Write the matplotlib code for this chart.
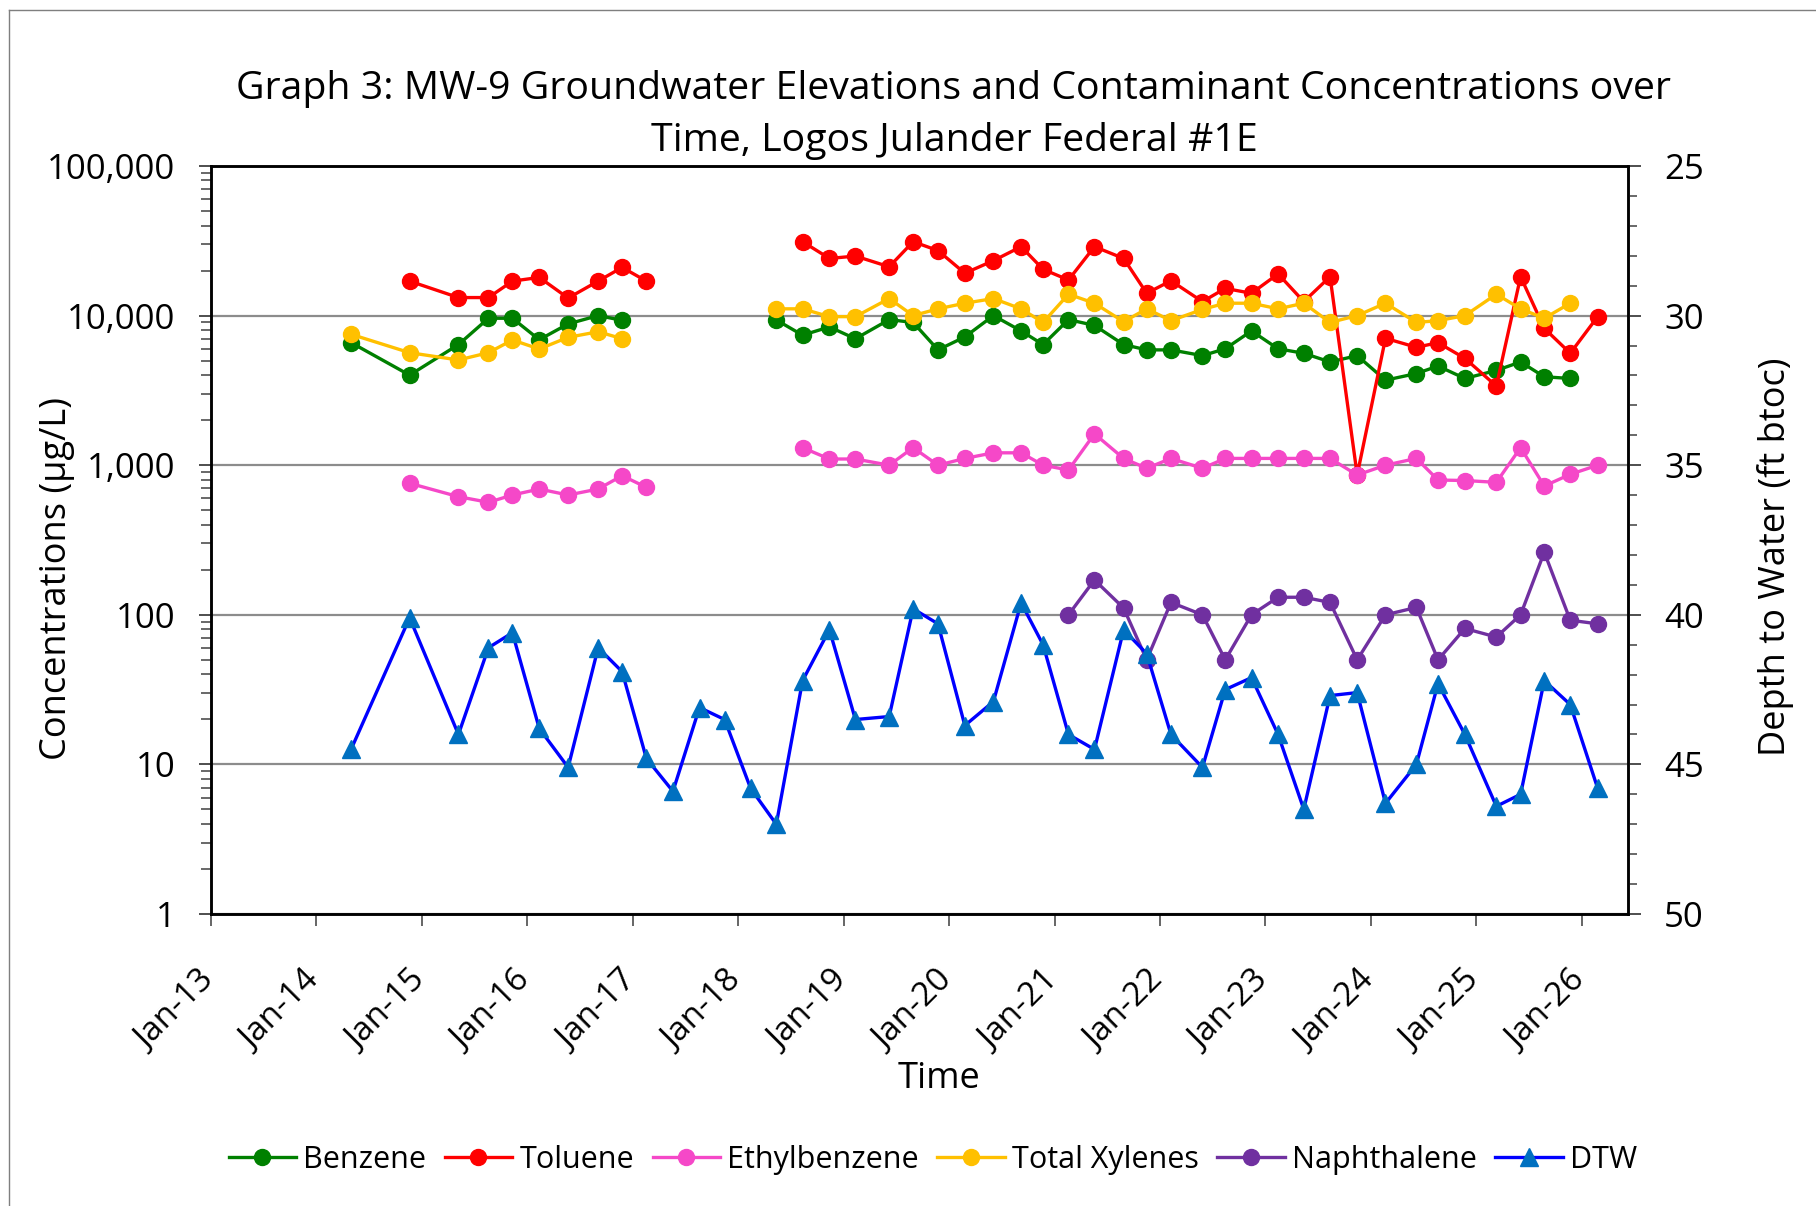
import matplotlib
matplotlib.use('Agg')
import matplotlib.pyplot as plt
import matplotlib.dates as mdates
from matplotlib.ticker import LogLocator, FuncFormatter, MultipleLocator, NullFormatter, FixedLocator
from matplotlib.transforms import ScaledTranslation
from matplotlib.lines import Line2D
import numpy as np
from datetime import datetime

plt.rcParams['font.family'] = ['Open Sans', 'DejaVu Sans']

# ---------------- data ----------------
dates = ["2014-05-01", "2014-11-20", "2015-05-08", "2015-08-20", "2015-11-11",
         "2016-02-12", "2016-05-22", "2016-09-03", "2016-11-25", "2017-02-17",
         "2017-05-20", "2017-08-20", "2017-11-15", "2018-02-13", "2018-05-13",
         "2018-08-12", "2018-11-13", "2019-02-11", "2019-06-08", "2019-08-30",
         "2019-11-24", "2020-02-25", "2020-06-03", "2020-09-07", "2020-11-22",
         "2021-02-18", "2021-05-19", "2021-08-28", "2021-11-16", "2022-02-08",
         "2022-05-28", "2022-08-15", "2022-11-14", "2023-02-14", "2023-05-14",
         "2023-08-13", "2023-11-15", "2024-02-21", "2024-06-07", "2024-08-21",
         "2024-11-22", "2025-03-11", "2025-06-03", "2025-08-24", "2025-11-22",
         "2026-02-25"]

benzene = [6600, 4000, 6400, 9600, 9600, 6900, 8800, 10000, 9300, None,
           None, None, None, None, 9350, 7400, 8400, 7000, 9400, 9000,
           5900, 7200, 10000, 7900, 6400, 9400, 8600, 6400, 5900, 5900,
           5400, 6000, 7900, 6000, 5600, 4900, 5400, 3700, 4100, 4600,
           3800, 4300, 4900, 3900, 3800, None]

toluene = [None, 17000, 13200, 13200, 17000, 18000, 13100, 17000, 21000, 17000,
           None, None, None, None, None, 31200, 24100, 25000, 21200, 31200,
           27200, 19200, 23300, 28900, 20400, 17300, 28900, 24100, 14100, 17100,
           12400, 15200, 14100, 19000, 12400, 18200, 860, 7050, 6140, 6590,
           5180, 3380, 18200, 8220, 5600, 9840]

ethylbenzene = [None, 757, 616, 565, 632, 693, 632, 693, 851, 711,
                None, None, None, None, None, 1310, 1100, 1100, 1000, 1310,
                1000, 1110, 1210, 1210, 1000, 929, 1620, 1110, 953, 1110,
                953, 1110, 1110, 1110, 1110, 1110, 860, 1000, 1110, 796,
                790, 768, 1310, 726, 869, 1000]

xylenes = [7500, 5650, 5050, 5650, 6870, 5980, 7160, 7800, 7010, None,
           None, None, None, None, 11100, 11100, 9840, 9840, 13000, 10000,
           11100, 12100, 13000, 11100, 9000, 13900, 12100, 9100, 11100, 9250,
           11000, 12100, 12100, 11100, 12100, 9000, 10000, 12100, 9000, 9250,
           10000, 13900, 11100, 9600, 12100, None]

naphthalene = [None] * 25 + [100, 171, 111, 50, 121, 100, 50, 100, 131, 131,
                             121, 50, 100, 112, 50, 81, 71, 100, 262, 92, 87]

dtw = [44.5, 40.1, 44.0, 41.1, 40.6, 43.8, 45.1, 41.1, 41.9, 44.8,
       45.9, 43.1, 43.5, 45.8, 47.0, 42.2, 40.5, 43.5, 43.4, 39.8,
       40.3, 43.7, 42.9, 39.6, 41.0, 44.0, 44.5, 40.5, 41.3, 44.0,
       45.1, 42.5, 42.1, 44.0, 46.5, 42.7, 42.6, 46.3, 45.0, 42.3,
       44.0, 46.4, 46.0, 42.2, 43.0, 45.8]

series_names = ["Benzene", "Toluene", "Ethylbenzene", "Total Xylenes", "Naphthalene"]
series_colors = ["#008000", "#FF0000", "#F548C8", "#FFC000", "#7030A0"]
year_ticks = list(range(2013, 2027))

title = ("Graph 3: MW-9 Groundwater Elevations and Contaminant Concentrations over\n"
         "Time, Logos Julander Federal #1E")

# ---------------- figure ----------------
W, H = 1816, 1206
fig = plt.figure(figsize=(W / 100, H / 100), dpi=100)
L, R, T, B = 211, 1628, 166, 914
ax = fig.add_axes([L / W, 1 - B / H, (R - L) / W, (B - T) / H])
ax2 = ax.twinx()

d = [datetime.strptime(s, "%Y-%m-%d") for s in dates]
arr = lambda v: np.array([np.nan if x is None else x for x in v], dtype=float)

handles = []
for name, col, vals in zip(series_names, series_colors,
                           [benzene, toluene, ethylbenzene, xylenes, naphthalene]):
    h, = ax.plot(d, arr(vals), color=col, lw=2.4, marker='o', ms=11.5,
                 mfc=col, mec=col, label=name, zorder=3)
    handles.append(h)

h, = ax2.plot(d, arr(dtw), color='#0000FF', lw=2.4, marker='^', ms=12.5,
              mfc='#0070C0', mec='#0070C0', label='DTW', zorder=3)
handles.append(h)

# left axis
ax.set_yscale('log')
ax.set_ylim(1, 1e5)
ax.yaxis.set_major_locator(LogLocator(base=10, numticks=10))
ax.yaxis.set_minor_locator(LogLocator(base=10, subs=np.arange(2, 10), numticks=20))
ax.yaxis.set_major_formatter(FuncFormatter(lambda v, p: f"{v:,.0f}"))
ax.yaxis.set_minor_formatter(NullFormatter())
ax.grid(axis='y', which='major', color='#8c8c8c', lw=1.6)
ax.set_axisbelow(True)

# right axis
ax2.set_ylim(50, 25)
ax2.yaxis.set_major_locator(MultipleLocator(5))
ax2.yaxis.set_minor_locator(MultipleLocator(1))

# x axis
ax.set_xlim(datetime(2013, 1, 1), datetime(2026, 6, 10))
ax.set_xticks([datetime(y, 1, 1) for y in year_ticks])
ax.xaxis.set_major_formatter(mdates.DateFormatter('%b-%y'))
ax.xaxis.set_minor_locator(FixedLocator([]))

ax.tick_params(axis='x', which='major', length=8.6, width=1.3, color='#595959',
               labelsize=24, pad=36)
ax.tick_params(axis='y', which='major', length=8.6, width=1.3, color='#404040',
               labelsize=25, pad=17)
ax.tick_params(axis='y', which='minor', length=7, width=1.1, color='#404040')
ax2.tick_params(axis='y', which='major', length=9, width=1.3, color='#404040',
                labelsize=25, pad=17)
ax2.tick_params(axis='y', which='minor', length=6.5, width=1.1, color='#404040')

for t in ax.xaxis.get_major_ticks():
    lbl = t.label1
    lbl.set_rotation(45)
    lbl.set_ha('right')
    lbl.set_va('center')
    lbl.set_rotation_mode('anchor')
    lbl.set_transform(lbl.get_transform() + ScaledTranslation(-0.01, 0, fig.dpi_scale_trans))

for a in (ax, ax2):
    for s in a.spines.values():
        s.set_color('black')
        s.set_linewidth(1.8)

# labels
ax.set_ylabel('Concentrations (µg/L)', fontsize=26)
ax.yaxis.set_label_coords(-0.096, 0.449)
ax2.set_ylabel('Depth to Water (ft btoc)', fontsize=26)
ax2.yaxis.set_label_coords(1.091, 0.477)
ax.set_xlabel('Time', fontsize=26)
ax.xaxis.set_label_coords(0.514, -0.197)

fig.text(954 / W, 1 - 115 / H, title, ha='center', va='center',
         fontsize=28.3, linespacing=1.5)

fig.legend(handles, [h.get_label() for h in handles], loc='center',
           bbox_to_anchor=(933 / W, 1 - 1160 / H), ncol=6, frameon=False,
           fontsize=22, handlelength=2.2, handletextpad=0.25, columnspacing=0.6)

# outer frame (left and top edges visible)
fig.add_artist(Line2D([9 / W, 9 / W], [0, 1 - 10 / H], transform=fig.transFigure,
                      color='#7f7f7f', lw=1))
fig.add_artist(Line2D([9 / W, 1], [1 - 10 / H, 1 - 10 / H], transform=fig.transFigure,
                      color='#7f7f7f', lw=1))

fig.savefig('out.png', dpi=100)
